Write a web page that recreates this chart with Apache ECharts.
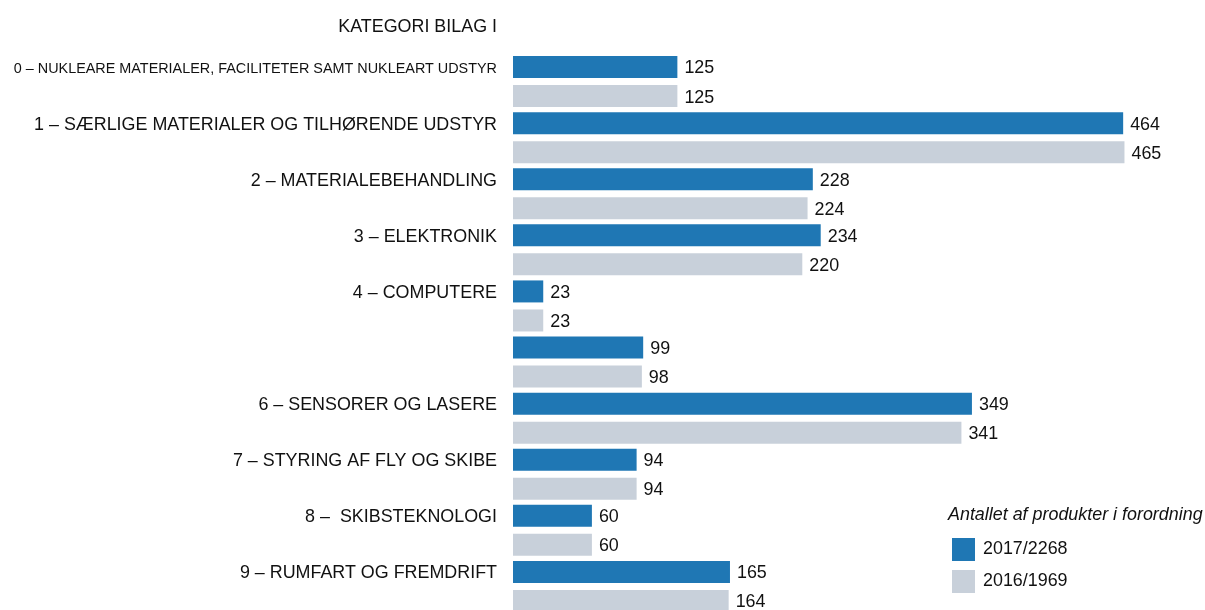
<!DOCTYPE html>
<html><head><meta charset="utf-8">
<script src="https://cdn.jsdelivr.net/npm/echarts@6/dist/echarts.min.js"></script>
<style>html,body{margin:0;padding:0;background:#fff;overflow:hidden}#c{width:1205px;height:620px}</style>
</head><body><div id="c"></div>
<script>
const categories = [
  "0 – NUKLEARE MATERIALER, FACILITETER SAMT NUKLEART UDSTYR",
  "1 – SÆRLIGE MATERIALER OG TILHØRENDE UDSTYR",
  "2 – MATERIALEBEHANDLING",
  "3 – ELEKTRONIK",
  "4 – COMPUTERE",
  "",
  "6 – SENSORER OG LASERE",
  "7 – STYRING AF FLY OG SKIBE",
  "8 –  SKIBSTEKNOLOGI",
  "9 – RUMFART OG FREMDRIFT"
];
const seriesNames = ["2017/2268", "2016/1969"];
const values2017 = [125, 464, 228, 234, 23, 99, 349, 94, 60, 165];
const values2016 = [125, 465, 224, 220, 23, 98, 341, 94, 60, 164];
const axisTitle = "KATEGORI BILAG I";
const legendTitle = "Antallet af produkter i forordning";

const FONT = "'Liberation Sans', Arial, sans-serif";
const FS = 17.9;
const chart = echarts.init(document.getElementById('c'), null, {renderer: 'canvas'});
const labelStyle = {show: true, position: 'right', distance: 7, offset: [0, 1.5], fontFamily: FONT, fontSize: FS, color: '#111'};
chart.setOption({
  animation: false,
  textStyle: {fontFamily: FONT},
  grid: {left: 513, top: 53.5, width: 657.5, height: 561, containLabel: false},
  xAxis: {type: 'value', min: 0, max: 500, show: false},
  yAxis: {
    type: 'category', data: categories, inverse: true,
    axisLine: {show: false}, axisTick: {show: false}, splitLine: {show: false},
    axisLabel: {
      margin: 16, fontFamily: FONT, fontSize: FS, color: '#111',
      padding: [0, 0, 26, 0],
      formatter: function (v, i) { return i === 0 ? '{s|' + v + '}' : v; },
      rich: {s: {fontSize: 14.4, fontFamily: FONT, color: '#111'}}
    }
  },
  legend: {
    orient: 'vertical', left: 952, top: 538, padding: 0, itemWidth: 23, itemHeight: 23, itemGap: 9,
    icon: 'rect', data: seriesNames,
    textStyle: {fontFamily: FONT, fontSize: FS, color: '#111', padding: [4, 0, 0, 3]}
  },
  graphic: [
    {type: 'text', right: 1205 - 497, top: 18, style: {text: axisTitle, font: FS + 'px ' + FONT, fill: '#111', textAlign: 'right'}},
    {type: 'text', left: 948, top: 506, style: {text: legendTitle, font: 'italic ' + FS + 'px ' + FONT, fill: '#111'}}
  ],
  series: [
    {name: seriesNames[0], type: 'bar', data: values2017, barWidth: 22, barGap: '32%',
     itemStyle: {color: '#1f77b4'}, label: labelStyle},
    {name: seriesNames[1], type: 'bar', data: values2016, barWidth: 22, barGap: '32%',
     itemStyle: {color: '#c8d0da'}, label: labelStyle}
  ]
});
</script></body></html>
